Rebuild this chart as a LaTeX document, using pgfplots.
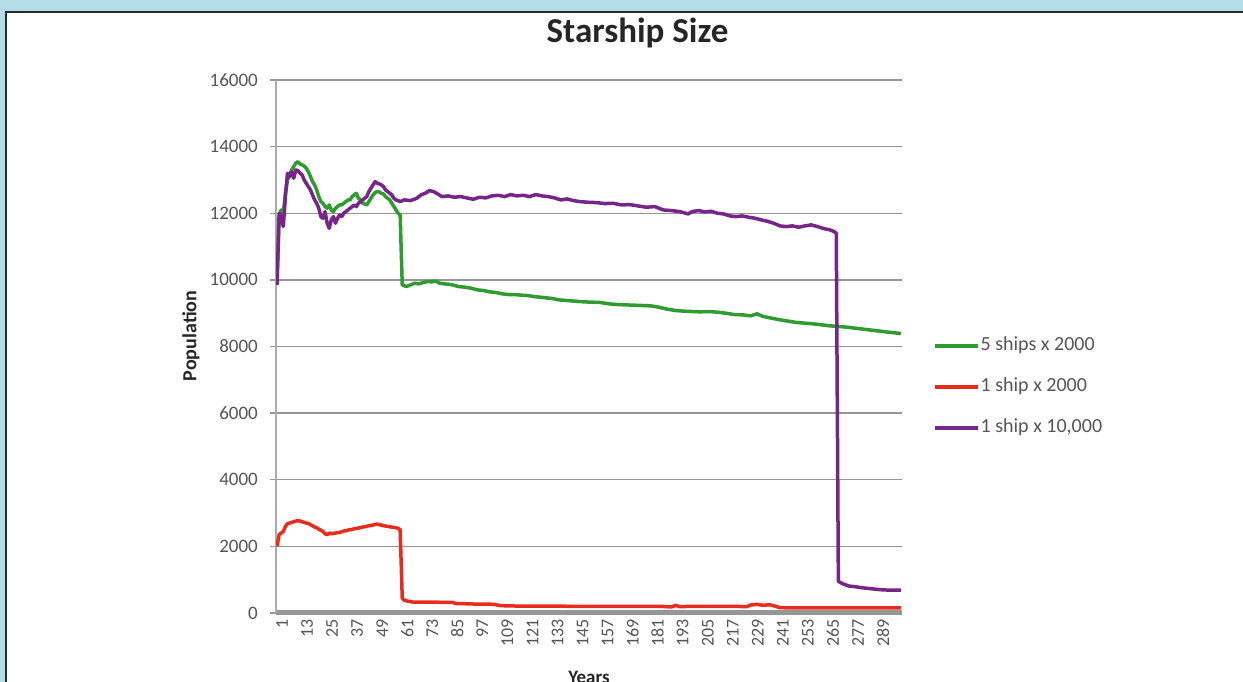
\documentclass[border=0pt]{standalone}
\usepackage{pgfplots}
\pgfplotsset{compat=1.18}
\usepackage{fontspec}
\setmainfont{Carlito}
\definecolor{panelblue}{RGB}{181,221,232}
\definecolor{framecol}{RGB}{35,45,50}
\definecolor{sgreen}{RGB}{48,155,48}
\definecolor{sred}{RGB}{232,45,30}
\definecolor{spurple}{RGB}{118,38,136}
\definecolor{gridgray}{RGB}{150,150,150}
\definecolor{ticktext}{RGB}{85,85,85}

\begin{document}
\begin{tikzpicture}
\useasboundingbox (0,0) rectangle (1243pt,682pt);
\clip (0,0) rectangle (1243pt,682pt);
\fill[panelblue] (0,0) rectangle (1243pt,682pt);
\filldraw[fill=white, draw=framecol, line width=2pt] (6pt,-10pt) rectangle (1260pt,670pt);
\begin{axis}[
  scale only axis, width=626pt, height=533pt,
  at={(276pt,69pt)}, anchor=south west,
  xmin=0.5, xmax=300.5, ymin=0, ymax=16000,
  axis x line=bottom, axis y line=left, axis line style={-},
  x axis line style={draw=gridgray, line width=5pt},
  y axis line style={draw=gridgray!80, line width=2.5pt},
  ytick={0,2000,...,16000},
  xtick={1,13,...,289},
  scaled y ticks=false,
  ymajorgrids, grid style={draw=gridgray, line width=1.3pt},
  tick align=outside,
  ytick style={draw=gridgray, line width=1.3pt},
  major tick length=6pt,
  xtick style={draw=none},
  /pgf/number format/assume math mode=true,
  /pgf/number format/1000 sep={},
  yticklabel style={font=\fontsize{19}{20}\selectfont, text=ticktext, anchor=east, inner sep=0pt, xshift=-12pt},
  xticklabel style={font=\fontsize{18}{20}\selectfont, text=ticktext, rotate=90, anchor=east, inner sep=0pt, yshift=-5pt},
  legend style={draw=none, fill=none, at={(1.0447,0.424)}, anchor=west,
    font=\fontsize{20}{22}\selectfont\color{ticktext}, row sep=22pt,
    nodes={inner sep=1pt, text height=13pt, text depth=4pt}},
  legend cell align=left,
  legend image code/.code={\draw[#1] (0pt,0pt) -- (43pt,0pt);},
  every axis plot/.append style={line width=3.5pt, line join=round, mark=none},
]
% 5 ships x 2000
\addplot[sgreen] coordinates {
(1,10000) (2,11900) (3,12100) (4,12000) (5,12600) (6,13000) (7,13150) (8,13300) (9,13400) (10,13500)
(11,13550) (12,13480) (13,13450) (14,13420) (15,13350) (16,13250) (17,13100) (18,12950) (19,12850) (20,12700)
(21,12500) (22,12350) (23,12300) (24,12200) (25,12150) (26,12250) (27,12100) (28,12050) (29,12150) (30,12200)
(31,12250) (32,12250) (33,12300) (34,12350) (35,12400) (36,12400) (37,12500) (38,12550) (39,12600) (40,12450)
(41,12400) (42,12300) (43,12280) (44,12250) (45,12350) (46,12450) (47,12550) (48,12620) (49,12650) (50,12640)
(51,12600) (52,12580) (53,12500) (54,12450) (55,12400) (56,12300) (57,12200) (58,12100) (59,12000) (60,11950)
(61,9850) (63,9800) (65,9850) (67,9900) (69,9880) (71,9920) (73,9950) (75,9940) (77,9960) (79,9900)
(81,9880) (83,9870) (85,9850) (88,9800) (91,9780) (94,9750) (97,9700) (100,9680) (103,9640) (106,9620)
(109,9580) (112,9560) (115,9560) (118,9540) (121,9530) (124,9500) (127,9480) (130,9460) (133,9440) (136,9400)
(140,9380) (144,9360) (148,9340) (152,9330) (156,9320) (160,9280) (164,9260) (168,9250) (172,9240) (176,9230)
(180,9220) (184,9180) (188,9120) (192,9080) (196,9060) (200,9050) (204,9040) (208,9050) (212,9030) (216,9000)
(220,8960) (224,8950) (228,8920) (231,8980) (234,8900) (238,8850) (242,8800) (246,8760) (250,8720) (254,8700)
(258,8680) (262,8650) (266,8620) (270,8600) (274,8580) (278,8550) (282,8520) (286,8490) (290,8460) (294,8430)
(297,8410) (300,8390)
};
\addlegendentry{5 ships x 2000}
% 1 ship x 2000
\addplot[sred] coordinates {
(1,2000) (2,2350) (3,2400) (4,2450) (5,2600) (6,2680) (7,2700) (8,2720) (9,2740) (10,2760)
(11,2770) (12,2760) (13,2740) (14,2720) (15,2700) (16,2690) (17,2650) (18,2620) (19,2580) (20,2560)
(21,2520) (22,2480) (23,2450) (24,2380) (25,2350) (26,2400) (27,2380) (28,2390) (29,2400) (30,2410)
(31,2420) (32,2440) (33,2460) (34,2470) (35,2490) (36,2500) (37,2510) (38,2530) (39,2540) (40,2550)
(41,2560) (42,2580) (43,2590) (44,2600) (45,2620) (46,2630) (47,2640) (48,2660) (49,2670) (50,2650)
(51,2640) (52,2620) (53,2610) (54,2600) (55,2590) (56,2580) (57,2570) (58,2560) (59,2540) (60,2500)
(61,450) (62,380) (64,350) (66,330) (70,330) (75,330) (80,320) (85,320) (87,280) (90,280)
(95,270) (100,270) (105,260) (108,220) (115,210) (130,205) (150,200) (170,200) (185,200) (190,180)
(192,230) (194,190) (200,200) (210,200) (220,200) (226,190) (228,240) (231,260) (234,230) (237,250)
(240,200) (242,160) (250,150) (270,150) (300,150)
};
\addlegendentry{1 ship x 2000}
% 1 ship x 10,000
\addplot[spurple] coordinates {
(1,9850) (2,12000) (3,11900) (4,11600) (5,12500) (6,13200) (7,13100) (8,13250) (9,13050) (10,13300)
(11,13280) (12,13200) (13,13150) (14,13000) (15,12900) (16,12800) (17,12700) (18,12550) (19,12400) (20,12300)
(21,12150) (22,11900) (23,11850) (24,12050) (25,11700) (26,11550) (27,11800) (28,11900) (29,11700) (30,11850)
(31,11950) (32,11900) (33,12000) (34,12050) (35,12100) (36,12150) (37,12200) (38,12250) (39,12200) (40,12300)
(41,12350) (42,12400) (43,12450) (44,12500) (45,12650) (46,12750) (47,12850) (48,12950) (49,12900) (50,12880)
(51,12850) (52,12800) (53,12700) (54,12650) (55,12600) (56,12550) (57,12450) (58,12400) (59,12380) (60,12350)
(62,12400) (65,12380) (68,12450) (70,12550) (72,12600) (74,12680) (76,12650) (78,12580) (80,12500) (83,12520)
(86,12480) (89,12500) (92,12460) (95,12420) (98,12480) (101,12460) (104,12520) (107,12540) (110,12500) (113,12560)
(116,12520) (119,12540) (122,12500) (125,12560) (128,12520) (131,12500) (134,12460) (137,12400) (140,12430) (143,12380)
(146,12350) (150,12330) (154,12320) (158,12290) (162,12300) (166,12250) (170,12260) (174,12220) (178,12180) (182,12200)
(186,12100) (190,12080) (194,12050) (198,11980) (200,12050) (203,12080) (206,12040) (209,12060) (212,12000) (215,11980)
(218,11920) (221,11900) (224,11920) (227,11880) (230,11850) (233,11800) (236,11760) (239,11700) (242,11620) (245,11600)
(248,11620) (251,11580) (254,11620) (257,11650) (260,11600) (263,11540) (266,11500) (268,11450) (269,11400) (270,950)
(272,880) (275,810) (278,790) (281,760) (284,740) (287,720) (290,700) (293,690) (296,690) (300,690)
};
\addlegendentry{1 ship x 10,000}
\end{axis}
\node[anchor=base, font=\bfseries\fontsize{35}{40}\selectfont, text=black!85] at (637.5pt,639pt) {Starship Size};
\node[rotate=90, font=\bfseries\fontsize{20}{22}\selectfont, text=black!85] at (191pt,346pt) {Population};
\node[anchor=north, inner sep=0pt, font=\bfseries\fontsize{19}{22}\selectfont, text=black!85] at (589pt,11pt) {Years};
\end{tikzpicture}
\end{document}
